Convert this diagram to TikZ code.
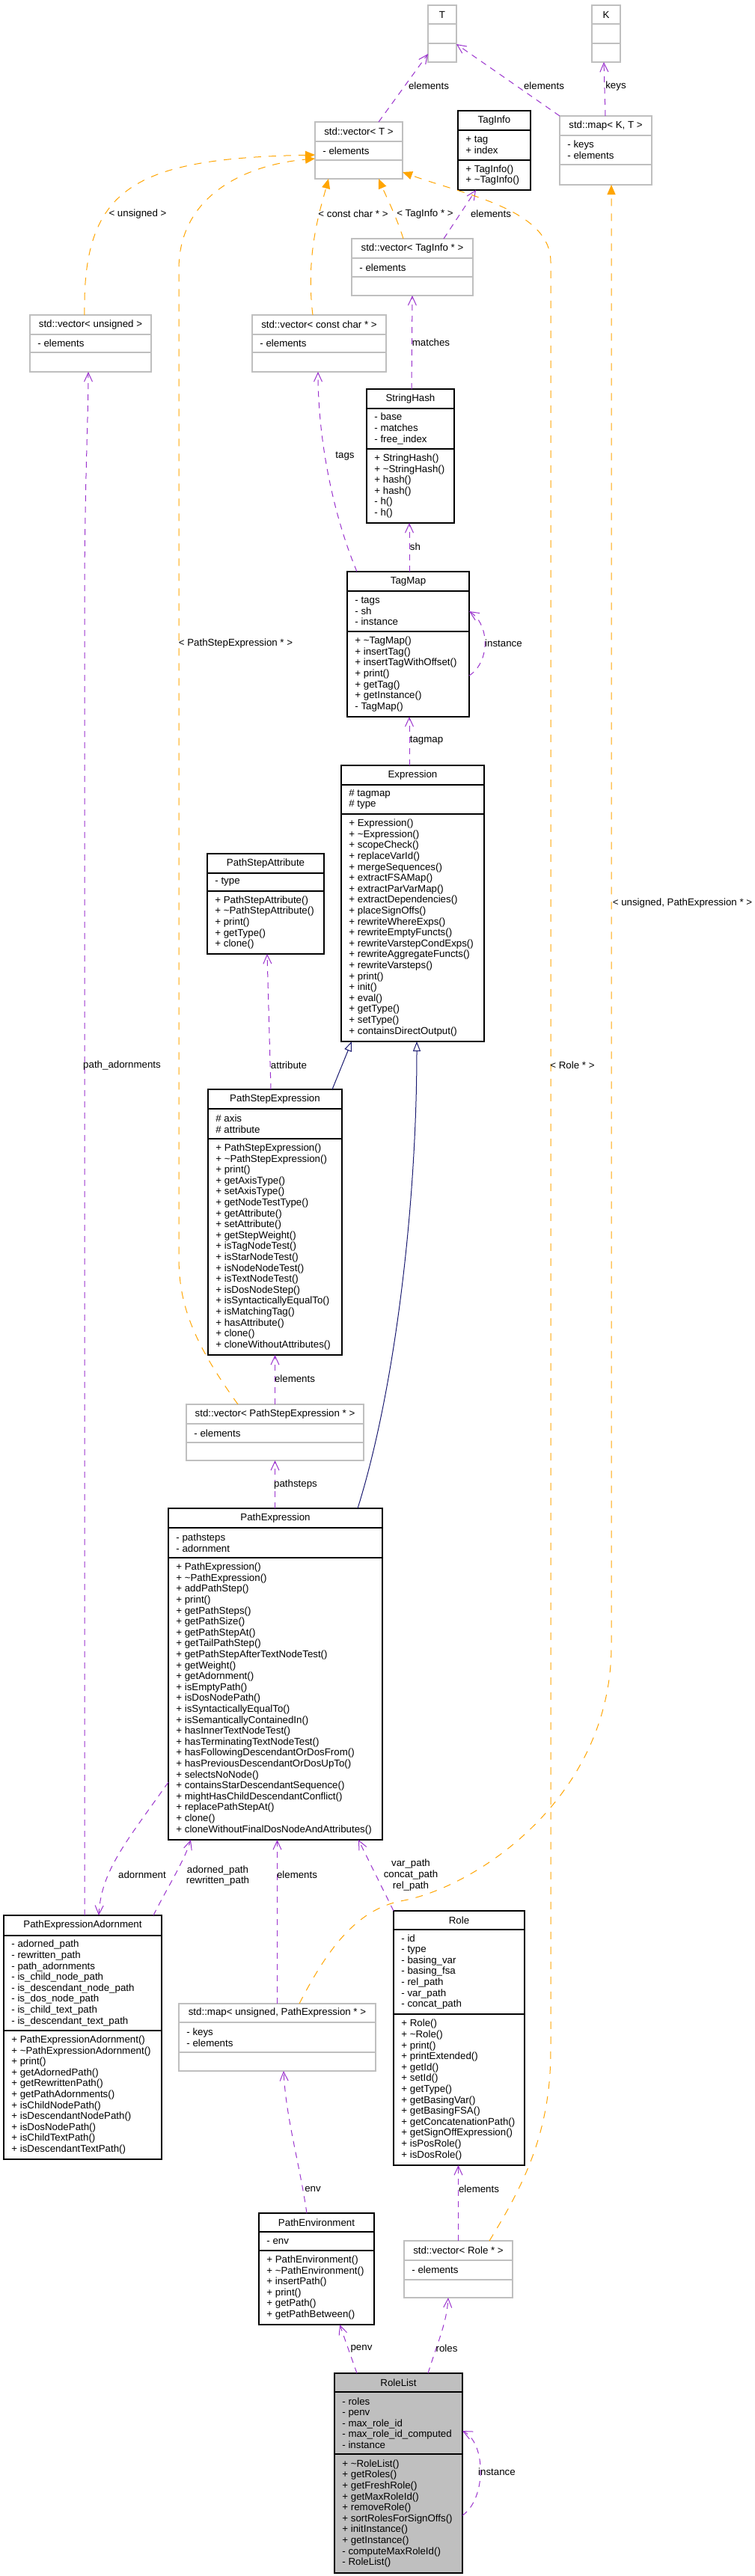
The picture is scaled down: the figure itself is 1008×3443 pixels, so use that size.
\documentclass[tikz,border=0pt]{standalone}
\usepackage{fontspec}
\setmainfont{Liberation Sans}
\usetikzlibrary{arrows.meta,calc,fit}
\definecolor{gbord}{HTML}{BFBFBF}
\definecolor{gfill}{HTML}{BFBFBF}
\definecolor{upurple}{HTML}{9A32CD}
\definecolor{torange}{HTML}{FFA500}
\definecolor{dnavy}{HTML}{191970}
\newcommand\mf{\fontsize{6.65pt}{7.3pt}\selectfont}
\newcommand\tld{\textasciitilde}
\tikzset{
 clsbox/.style={draw=black, line width=0.6pt, inner sep=0pt, outer sep=0pt},
 clsdiv/.style={draw=black, line width=0.6pt},
 extbox/.style={draw=gbord, line width=0.6pt, inner sep=0pt, outer sep=0pt},
 extdiv/.style={draw=gbord, line width=0.6pt},
 curbox/.style={draw=black, fill=gfill, line width=0.6pt, inner sep=0pt, outer sep=0pt},
 curdiv/.style={draw=black, line width=0.6pt},
 ttl/.style={inner sep=0pt, font=\mf},
 mem/.style={inner sep=0pt, anchor=west, align=left, font=\mf},
 lbl/.style={inner sep=0pt, font=\mf, align=center},
 usedge/.style={draw=upurple, line width=0.5pt, dash pattern=on 4pt off 3.5pt, -{Straight Barb[length=6pt,width=5.5pt]}},
 tmpledge/.style={draw=torange, line width=0.5pt, dash pattern=on 5pt off 5pt, -{Triangle[length=6.5pt,width=5.5pt]}},
 inhedge/.style={draw=dnavy, line width=0.5pt, -{Triangle[open,fill=white,length=6.5pt,width=5pt]}}
}
\newcommand\ubox[9]{%
  \coordinate (#2-nw) at (#3,#4);
  \coordinate (#2-se) at (#5,#6);
  \node[#1box, fit=(#2-nw)(#2-se)] (#2) {};
  \draw[#1div] (#3,#7) -- (#5,#7) (#3,#8) -- (#5,#8);
  \node[ttl] (#2-t) at ({(#3+#5)/2},{(#4+#7)/2}) {#9};
  \gdef\bxa{#3}\gdef\bya{#7}\gdef\byb{#8}\gdef\byc{#6}\gdef\bnm{#2}}
\newcommand\uattr[1]{\node[mem] (\bnm-a) at ({\bxa+10},{(\bya+\byb)/2}) {#1};}
\newcommand\umeth[1]{\node[mem] (\bnm-m) at ({\bxa+10},{(\byb+\byc)/2}) {#1};}
\begin{document}
\begin{tikzpicture}[x=0.5pt,y=-0.5pt]
\fill[white] (0,0) rectangle (1008,3443);
\useasboundingbox (0,0) rectangle (1008,3443);

\ubox{ext}{T}{572}{7}{610}{83}{32}{58}{T}
\ubox{ext}{K}{791}{7}{829}{83}{32}{58}{K}
\ubox{ext}{vecT}{421}{163}{538}{239}{189}{214}{std::vector< T >}
\uattr{- elements}
\ubox{cls}{TagInfo}{612}{148}{709}{254}{174}{214}{TagInfo}
\uattr{+ tag\\+ index}
\umeth{+ TagInfo()\\+ \tld TagInfo()}
\ubox{ext}{mapKT}{748}{155}{871}{247}{181}{220}{std::map< K, T >}
\uattr{- keys\\- elements}
\ubox{ext}{vecTI}{470}{319}{632}{395}{345}{370}{std::vector< TagInfo * >}
\uattr{- elements}
\ubox{ext}{vecU}{40}{421}{202}{497}{447}{471}{std::vector< unsigned >}
\uattr{- elements}
\ubox{ext}{vecCC}{337}{421}{516}{497}{447}{471}{std::vector< const char * >}
\uattr{- elements}
\ubox{cls}{StrHash}{490}{520}{607}{699}{546}{600}{StringHash}
\uattr{- base\\- matches\\- free\_index}
\umeth{+ StringHash()\\+ \tld StringHash()\\+ hash()\\+ hash()\\- h()\\- h()}
\ubox{cls}{TagMap}{464}{764}{627}{958}{790}{844}{TagMap}
\uattr{- tags\\- sh\\- instance}
\umeth{+ \tld TagMap()\\+ insertTag()\\+ insertTagWithOffset()\\+ print()\\+ getTag()\\+ getInstance()\\- TagMap()}
\ubox{cls}{Expr}{456}{1023}{647}{1392}{1049}{1088}{Expression}
\uattr{\# tagmap\\\# type}
\umeth{+ Expression()\\+ \tld Expression()\\+ scopeCheck()\\+ replaceVarId()\\+ mergeSequences()\\+ extractFSAMap()\\+ extractParVarMap()\\+ extractDependencies()\\+ placeSignOffs()\\+ rewriteWhereExps()\\+ rewriteEmptyFuncts()\\+ rewriteVarstepCondExps()\\+ rewriteAggregateFuncts()\\+ rewriteVarsteps()\\+ print()\\+ init()\\+ eval()\\+ getType()\\+ setType()\\+ containsDirectOutput()}
\ubox{cls}{PSA}{277}{1141}{433}{1275}{1167}{1191}{PathStepAttribute}
\uattr{- type}
\umeth{+ PathStepAttribute()\\+ \tld PathStepAttribute()\\+ print()\\+ getType()\\+ clone()}
\ubox{cls}{PSE}{278}{1456}{457}{1811}{1482}{1522}{PathStepExpression}
\uattr{\# axis\\\# attribute}
\umeth{+ PathStepExpression()\\+ \tld PathStepExpression()\\+ print()\\+ getAxisType()\\+ setAxisType()\\+ getNodeTestType()\\+ getAttribute()\\+ setAttribute()\\+ getStepWeight()\\+ isTagNodeTest()\\+ isStarNodeTest()\\+ isNodeNodeTest()\\+ isTextNodeTest()\\+ isDosNodeStep()\\+ isSyntacticallyEqualTo()\\+ isMatchingTag()\\+ hasAttribute()\\+ clone()\\+ cloneWithoutAttributes()}
\ubox{ext}{vecPSE}{249}{1877}{486}{1952}{1903}{1928}{std::vector< PathStepExpression * >}
\uattr{- elements}
\ubox{cls}{PE}{225}{2016}{511}{2459}{2042}{2082}{PathExpression}
\uattr{- pathsteps\\- adornment}
\umeth{+ PathExpression()\\+ \tld PathExpression()\\+ addPathStep()\\+ print()\\+ getPathSteps()\\+ getPathSize()\\+ getPathStepAt()\\+ getTailPathStep()\\+ getPathStepAfterTextNodeTest()\\+ getWeight()\\+ getAdornment()\\+ isEmptyPath()\\+ isDosNodePath()\\+ isSyntacticallyEqualTo()\\+ isSemanticallyContainedIn()\\+ hasInnerTextNodeTest()\\+ hasTerminatingTextNodeTest()\\+ hasFollowingDescendantOrDosFrom()\\+ hasPreviousDescendantOrDosUpTo()\\+ selectsNoNode()\\+ containsStarDescendantSequence()\\+ mightHasChildDescendantConflict()\\+ replacePathStepAt()\\+ clone()\\+ cloneWithoutFinalDosNodeAndAttributes()}
\ubox{cls}{PEA}{5}{2560}{216}{2886}{2587}{2714}{PathExpressionAdornment}
\uattr{- adorned\_path\\- rewritten\_path\\- path\_adornments\\- is\_child\_node\_path\\- is\_descendant\_node\_path\\- is\_dos\_node\_path\\- is\_child\_text\_path\\- is\_descendant\_text\_path}
\umeth{+ PathExpressionAdornment()\\+ \tld PathExpressionAdornment()\\+ print()\\+ getAdornedPath()\\+ getRewrittenPath()\\+ getPathAdornments()\\+ isChildNodePath()\\+ isDescendantNodePath()\\+ isDosNodePath()\\+ isChildTextPath()\\+ isDescendantTextPath()}
\ubox{ext}{mapUPE}{239}{2678}{502}{2768}{2703}{2743}{std::map< unsigned, PathExpression * >}
\uattr{- keys\\- elements}
\ubox{cls}{Role}{526}{2554}{701}{2894}{2579}{2692}{Role}
\uattr{- id\\- type\\- basing\_var\\- basing\_fsa\\- rel\_path\\- var\_path\\- concat\_path}
\umeth{+ Role()\\+ \tld Role()\\+ print()\\+ printExtended()\\+ getId()\\+ setId()\\+ getType()\\+ getBasingVar()\\+ getBasingFSA()\\+ getConcatenationPath()\\+ getSignOffExpression()\\+ isPosRole()\\+ isDosRole()}
\ubox{cls}{PEnv}{346}{2958}{500}{3107}{2983}{3008}{PathEnvironment}
\uattr{- env}
\umeth{+ PathEnvironment()\\+ \tld PathEnvironment()\\+ insertPath()\\+ print()\\+ getPath()\\+ getPathBetween()}
\ubox{ext}{vecRole}{540}{2995}{685}{3071}{3021}{3047}{std::vector< Role * >}
\uattr{- elements}
\ubox{cur}{RoleList}{447}{3172}{618}{3439}{3197}{3280}{RoleList}
\uattr{- roles\\- penv\\- max\_role\_id\\- max\_role\_id\_computed\\- instance}
\umeth{+ \tld RoleList()\\+ getRoles()\\+ getFreshRole()\\+ getMaxRoleId()\\+ removeRole()\\+ sortRolesForSignOffs()\\+ initInstance()\\+ getInstance()\\- computeMaxRoleId()\\- RoleList()}

% usage edges
\draw[usedge] ($(vecT.north)+(26.5,0)$) -- ($(T.south west)+(0,-11)$);
\draw[usedge] (mapKT.north west) -- ($(T.south east)+(0,-24)$);
\draw[usedge] ($(mapKT.north)+(-0.5,0)$) -- ($(K.south)+(-3,0)$);
\draw[usedge] ($(vecTI.north)+(42,0)$) -- ($(TagInfo.south)+(-24.5,0)$);
\draw[usedge] ($(StrHash.north)+(1.5,0)$) -- (vecTI.south);
\draw[usedge] ($(TagMap.north west)+(13,0)$) .. controls (450,700) and (425,600) .. ($(vecCC.south)+(-1.5,0)$);
\draw[usedge] ($(TagMap.north)+(1.5,0)$) -- ($(StrHash.south)+(-1.5,0)$);
\draw[usedge] ($(TagMap.north east)+(0,139)$) .. controls (655,885) and (655,835) .. ($(TagMap.north east)+(0,53)$);
\draw[usedge] ($(Expr.north)+(-4.5,0)$) -- ($(TagMap.south)+(1.5,0)$);
\draw[usedge] ($(PSE.north)+(-5.5,0)$) -- ($(PSA.south)+(2,0)$);
\draw[usedge] (vecPSE.north) -- (PSE.south);
\draw[usedge] ($(PE.north)+(-0.5,0)$) -- (vecPSE.south);
\draw[usedge] ($(PE.south west)+(0,-77)$) .. controls (170,2460) and (135,2500) .. ($(PEA.north west)+(127,0)$);
\draw[usedge] ($(PEA.north west)+(200,0)$) .. controls (225,2520) and (245,2490) .. ($(PE.south west)+(30,0)$);
\draw[usedge] (mapUPE.north) -- ($(PE.south)+(2.5,0)$);
\draw[usedge] (Role.north west) -- ($(PE.south east)+(-32,0)$);
\draw[usedge] ($(PEA.north west)+(108,0)$) -- (113,800) .. controls (113,650) and (118,560) .. ($(vecU.south)+(-3,0)$);
\draw[usedge] ($(PEnv.north)+(-13,0)$) .. controls (400,2890) and (382,2830) .. ($(mapUPE.south)+(8.5,0)$);
\draw[usedge] (vecRole.north) -- ($(Role.south)+(-1,0)$);
\draw[usedge] ($(RoleList.north west)+(30,0)$) -- ($(PEnv.south)+(31,0)$);
\draw[usedge] ($(RoleList.north west)+(125,0)$) .. controls (585,3130) and (597,3105) .. ($(vecRole.south)+(-13.5,0)$);
\draw[usedge] ($(RoleList.north east)+(0,190)$) .. controls (650,3340) and (650,3265) .. ($(RoleList.north east)+(0,77)$);

% template edges
\draw[tmpledge] ($(vecU.north)+(-8,0)$) .. controls (110,250) and (180,212) .. ($(vecT.south west)+(0,-32)$);
\draw[tmpledge] ($(vecPSE.north west)+(69,0)$) .. controls (255,1790) and (239,1740) .. (239,1680) -- (239,360) .. controls (239,260) and (330,220) .. ($(vecT.south west)+(0,-27)$);
\draw[tmpledge] ($(vecCC.north)+(-8.5,0)$) .. controls (408,340) and (428,280) .. ($(vecT.south west)+(18,0)$);
\draw[tmpledge] ($(vecTI.north)+(-12,0)$) .. controls (530,290) and (515,260) .. ($(vecT.south)+(26.5,0)$);
\draw[tmpledge] ($(vecRole.north)+(41.5,0)$) .. controls (700,2920) and (736,2850) .. (736,2740) -- (736,350) .. controls (736,280) and (620,260) .. ($(vecT.south east)+(0,-9)$);
\draw[tmpledge] ($(mapUPE.north)+(29.5,0)$) .. controls (440,2600) and (480,2550) .. (540,2540) .. controls (640,2520) and (817,2400) .. (817,2200) -- ($(mapKT.south)+(7.5,0)$);

% inheritance
\draw[inhedge] ($(PSE.north east)+(-13,0)$) -- ($(Expr.south west)+(14,0)$);
\draw[inhedge] ($(PE.north east)+(-33,0)$) .. controls (530,1850) and (557,1600) .. ($(Expr.south)+(5.5,0)$);

% labels
\node[lbl] (l1) at (573,115) {elements};
\node[lbl] (l2) at (727,115) {elements};
\node[lbl] (l3) at (823,115) {keys};
\node[lbl] (l4) at (184,286) {< unsigned >};
\node[lbl] (l5) at (472,286) {< const char * >};
\node[lbl] (l6) at (568,286) {< TagInfo * >};
\node[lbl] (l7) at (656,286) {elements};
\node[lbl] (l8) at (576,458) {matches};
\node[lbl] (l9) at (461,610) {tags};
\node[lbl] (l10) at (555,731) {sh};
\node[lbl] (l11) at (673,860) {instance};
\node[lbl] (l12) at (315,860) {< PathStepExpression * >};
\node[lbl] (l13) at (570,990) {tagmap};
\node[lbl] (l14) at (912,1207) {< unsigned, PathExpression * >};
\node[lbl] (l15) at (163,1424) {path\_adornments};
\node[lbl] (l16) at (386,1424) {attribute};
\node[lbl] (l17) at (765,1424) {< Role * >};
\node[lbl] (l18) at (394,1843) {elements};
\node[lbl] (l19) at (395,1984) {pathsteps};
\node[lbl] (l20) at (190,2506) {adornment};
\node[lbl] (l21) at (291,2507) {adorned\_path\\rewritten\_path};
\node[lbl] (l22) at (397,2506) {elements};
\node[lbl] (l23) at (549,2506) {var\_path\\concat\_path\\rel\_path};
\node[lbl] (l24) at (418,2926) {env};
\node[lbl] (l25) at (640,2926) {elements};
\node[lbl] (l26) at (483,3139) {penv};
\node[lbl] (l27) at (597,3139) {roles};
\node[lbl] (l28) at (664,3304) {instance};
\end{tikzpicture}
\end{document}
